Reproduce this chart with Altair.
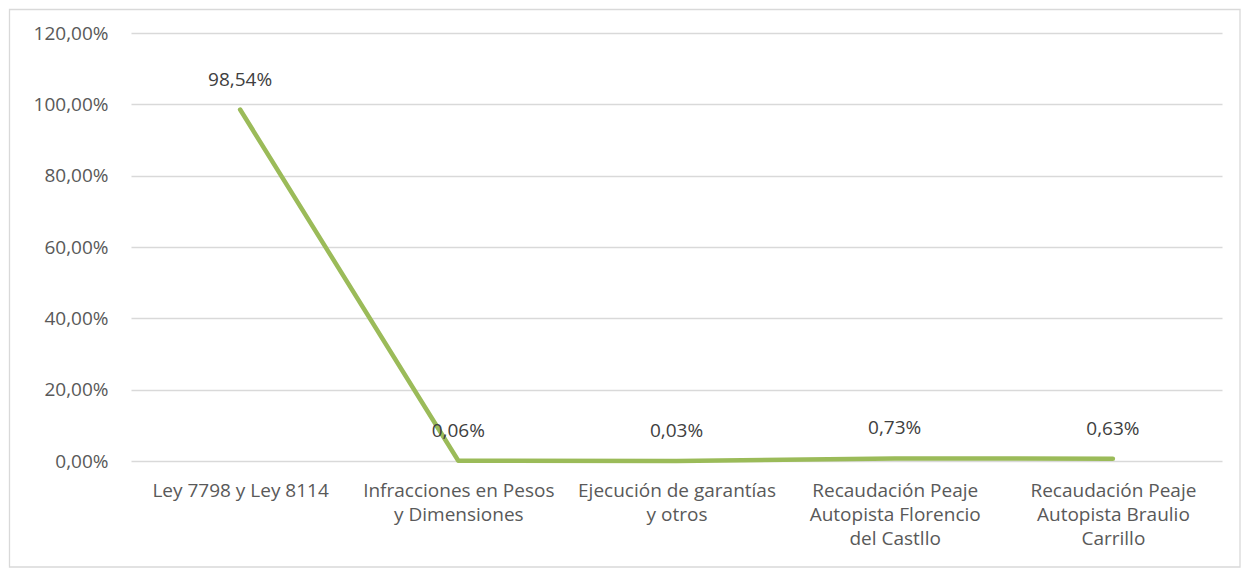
import altair as alt
import pandas as pd

categories = [
    "Ley 7798 y Ley 8114",
    "Infracciones en Pesos\ny Dimensiones",
    "Ejecución de garantías\ny otros",
    "Recaudación Peaje\nAutopista Florencio\ndel Castllo",
    "Recaudación Peaje\nAutopista Braulio\nCarrillo",
]
values = [0.9854, 0.0006, 0.0003, 0.0073, 0.0063]
y_ticks = [0, 0.2, 0.4, 0.6, 0.8, 1.0, 1.2]

df = pd.DataFrame({"cat": categories, "val": values})

FONT = "Open Sans"
FS = 19
x_enc = alt.X(
    "cat:N",
    sort=categories,
    scale=alt.Scale(type="point", padding=0.5),
    axis=alt.Axis(
        title=None,
        labelAngle=0,
        labelExpr="split(datum.label, '\\n')",
        labelFontSize=FS,
        labelColor="#595959",
        labelFont=FONT,
        labelPadding=20,
        labelLineHeight=24,
        labelBaseline="top",
        labelLimit=0,
        labelOverlap=False,
        ticks=False,
        domain=False,
        grid=False,
    ),
)
y_enc = alt.Y(
    "val:Q",
    scale=alt.Scale(domain=[0, 1.2]),
    axis=alt.Axis(
        title=None,
        values=y_ticks,
        labelExpr="replace(format(datum.value, '.2%'), '.', ',')",
        labelFontSize=FS,
        labelColor="#595959",
        labelFont=FONT,
        labelPadding=23,
        ticks=False,
        domain=False,
        gridColor="#d9d9d9",
        gridWidth=1.3,
    ),
)

frame = alt.Chart(pd.DataFrame({"a": [0]})).mark_rect(
    fill=None, stroke="#d9d9d9", strokeWidth=1.3, clip=False
).encode(
    x=alt.value(-121.5), x2=alt.value(1109), y=alt.value(-23.5), y2=alt.value(534)
)

line = alt.Chart(df).mark_line(
    color="#9BBB59", strokeWidth=4.5, strokeCap="round", strokeJoin="round"
).encode(x=x_enc, y=y_enc)

labels = alt.Chart(df).transform_calculate(
    lbl="replace(format(datum.val, '.2%'), '.', ',')"
).mark_text(
    dy=-30, fontSize=FS, color="#404040", font=FONT
).encode(x=alt.X("cat:N", sort=categories), y="val:Q", text="lbl:N")

chart = alt.layer(frame, line, labels).properties(
    width=1091,
    height=428,
    autosize=alt.AutoSizeParams(type="none"),
    padding={"left": 123, "top": 25, "right": 19, "bottom": 107},
).configure(background="white").configure_view(stroke=None)

chart.save("out.html", embed_options={"renderer": "svg", "actions": False})
